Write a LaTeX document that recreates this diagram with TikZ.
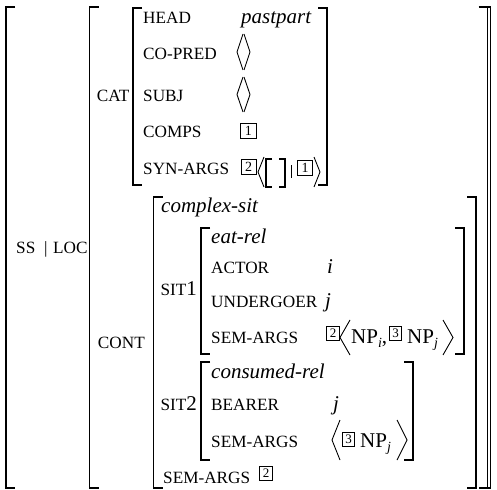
\documentclass[tikz,border=0pt]{standalone}
\usepackage{fontspec}
\setmainfont{Liberation Serif}
\newcommand\ftsize{\fontsize{17.2}{17.2}\selectfont}
\newcommand\valsize{\fontsize{21}{21}\selectfont}
\newcommand\subi[1]{\raisebox{-4.5pt}{\fontsize{14}{14}\selectfont\itshape #1}}
\newcommand\LB[3]{\draw[brk] (#1+9,#2) -- (#1,#2) -- (#1,#3) -- (#1+9,#3);}
\newcommand\RB[3]{\draw[brk] (#1-9,#2) -- (#1,#2) -- (#1,#3) -- (#1-9,#3);}
\newcommand\LA[5]{\draw[ang] (#2,#3) -- (#1,#4) -- (#2,#5);}
\newcommand\RA[5]{\draw[ang] (#1,#3) -- (#2,#4) -- (#1,#5);}
\tikzset{
  ft/.style={anchor=base west, inner sep=0pt, font=\ftsize},
  ftr/.style={anchor=base east, inner sep=0pt, font=\ftsize},
  val/.style={anchor=base west, inner sep=0pt, font=\valsize\itshape},
  rmval/.style={anchor=base west, inner sep=0pt, font=\valsize},
  tagbox/.style={draw, line width=0.7pt, inner sep=0pt, minimum width=15.5pt, minimum height=15pt, font=\fontsize{14}{14}\selectfont},
  stag/.style={draw, line width=0.7pt, inner sep=0pt, minimum width=12.5pt, minimum height=14pt, font=\fontsize{13}{13}\selectfont},
  brk/.style={line width=1.3pt},
  ibrk/.style={line width=1.1pt},
  ang/.style={line width=0.9pt, line join=miter}
}
\begin{document}
\begin{tikzpicture}[x=1pt,y=-1pt]
\useasboundingbox (0,0) rectangle (497,489);
% outer matrix
\LB{6}{7}{488}
\RB{490.5}{7}{488}
\node[ft] (ss) at (16,253) {SS};
\node[ft] (bar) at (44,253) {|};
\node[ft] (loc) at (53,253) {LOC};
% LOC matrix
\LB{89.5}{7}{488}
\RB{487.5}{7}{488}
% CAT
\node[ftr] (cat) at (129.5,102) {CAT};
\LB{133}{8}{185}
\RB{327}{8}{185}
\node[ft] (head) at (143,24) {HEAD};
\node[ft] (copred) at (143,60) {CO-PRED};
\node[ft] (subj) at (143,102) {SUBJ};
\node[ft] (comps) at (143,138) {COMPS};
\node[ft] (synargs) at (143,175) {SYN-ARGS};
\node[val] (pastpart) at (241,24) {pastpart};
\LA{237}{243}{34}{52}{70}
\RA{244}{250}{34}{52}{70}
\LA{237}{243}{77}{94.5}{112}
\RA{244}{250}{77}{94.5}{112}
\node[tagbox] (t1a) at (248.3,130.5) {1};
\node[tagbox] (t2a) at (248.7,166.5) {2};
\LA{258}{264}{157}{172}{187}
\draw[ibrk] (272,159) -- (266,159) -- (266,187) -- (272,187);
\draw[ibrk] (279,159) -- (285,159) -- (285,187) -- (279,187);
\draw[line width=0.8pt] (291,165) -- (291,178);
\node[tagbox] (t1b) at (305,167.5) {1};
\RA{314}{320}{157}{172}{187}
% CONT
\node[ftr] (cont) at (145,348) {CONT};
\LB{153.5}{197}{488}
\RB{476}{197}{488}
\node[val] (complexsit) at (161,212) {complex-sit};
% SIT1
\node[ftr] (sit1) at (197,295) {SIT{\valsize 1}};
\LB{201}{228}{354}
\RB{464}{228}{354}
\node[val] (eatrel) at (211,243) {eat-rel};
\node[ft] (actor) at (211,273) {ACTOR};
\node[val] (iv) at (327,273) {i};
\node[ft] (undergoer) at (211,307) {UNDERGOER};
\node[val] (jv) at (325,307) {j};
\node[ft] (semargs1) at (211,343) {SEM-ARGS};
\node[stag] (t2b) at (333,333) {2};
\LA{340}{350}{320}{337.5}{355}
\node[rmval] (np1) at (351,343) {NP\subi{i},};
\node[stag] (t3a) at (395.5,333) {3};
\node[rmval] (np2) at (407,343) {NP\subi{j}};
\RA{443}{453}{320}{337.5}{355}
% SIT2
\node[ftr] (sit2) at (197,410) {SIT{\valsize 2}};
\LB{201}{362}{460}
\RB{413}{362}{460}
\node[val] (consrel) at (211,378) {consumed-rel};
\node[ft] (bearer) at (211,410) {BEARER};
\node[val] (jv2) at (333,410) {j};
\node[ft] (semargs2) at (211,447) {SEM-ARGS};
\LA{332}{340}{420}{440}{460}
\node[stag] (t3b) at (348.5,439) {3};
\node[rmval] (np3) at (360,447) {NP\subi{j}};
\RA{397}{407}{420}{440}{460}
% last SEM-ARGS
\node[ft] (semargs3) at (163,483) {SEM-ARGS};
\node[stag] (t2c) at (266,473.5) {2};
\end{tikzpicture}
\end{document}
